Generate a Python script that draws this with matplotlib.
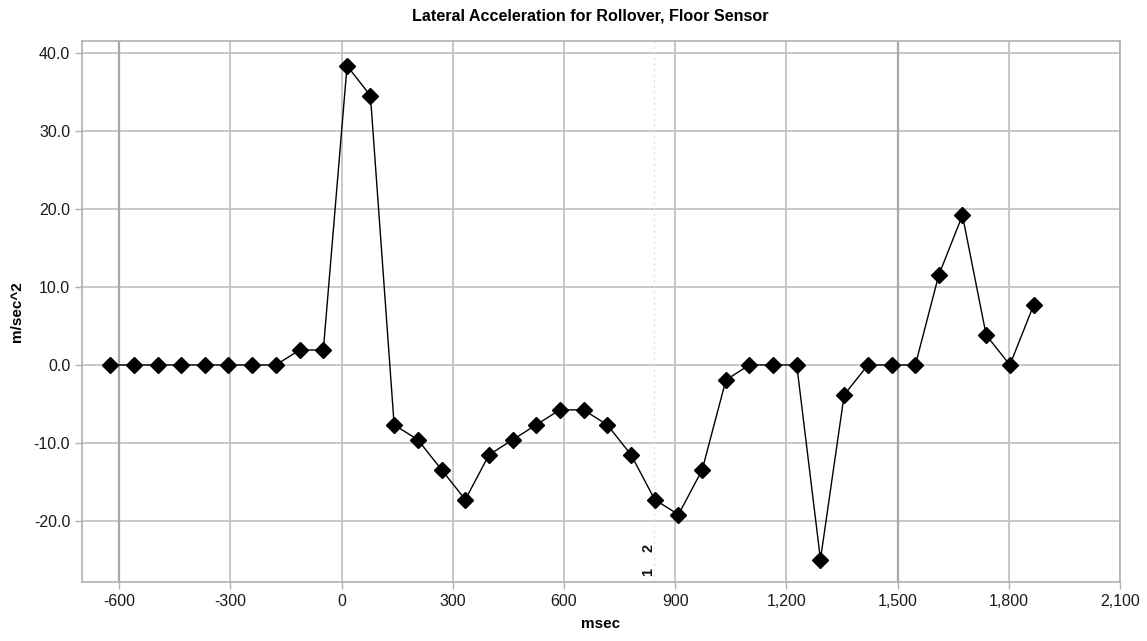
import matplotlib
matplotlib.use("Agg")
import matplotlib.pyplot as plt
from matplotlib.ticker import FuncFormatter, MultipleLocator

plt.rcParams['font.family'] = ['Liberation Sans', 'DejaVu Sans']

title = "Lateral Acceleration for Rollover, Floor Sensor"
x_label = "msec"
y_label = "m/sec^2"

time_ms = [-624, -560, -496, -432, -368, -305, -241, -177, -113, -49,
           15, 78, 142, 206, 270, 334, 398, 462, 525, 589,
           653, 717, 781, 845, 909, 973, 1037, 1100, 1164, 1228,
           1292, 1356, 1420, 1484, 1548, 1611, 1675, 1739, 1803, 1867]
accel = [0, 0, 0, 0, 0, 0, 0, 0, 1.92, 1.92,
         38.33, 34.50, -7.67, -9.58, -13.42, -17.25, -11.50, -9.58, -7.67, -5.75,
         -5.75, -7.67, -11.50, -17.25, -19.17, -13.42, -1.92, 0, 0, 0,
         -24.92, -3.83, 0, 0, 0, 11.50, 19.17, 3.83, 0, 7.67]

event_x = 843
event_labels = ["1", "2"]

fig = plt.figure(figsize=(11.47, 6.41), dpi=100)
ax = fig.add_axes([82/1147, 1 - 582/641, (1120-82)/1147, (582-41)/641])

ax.set_xlim(-700, 2100)
ax.set_ylim(-27.8, 41.5)
ax.xaxis.set_major_locator(MultipleLocator(300))
ax.yaxis.set_major_locator(MultipleLocator(10))
ax.xaxis.set_major_formatter(FuncFormatter(lambda v, p: f"{v:,.0f}"))
ax.yaxis.set_major_formatter(FuncFormatter(lambda v, p: f"{v:.1f}"))

ax.grid(True, color="#c4c4c4", linewidth=1.3)
ax.set_axisbelow(True)
for gx in (-600, 1500):
    ax.axvline(gx, color="#a8a8a8", linewidth=1.6, zorder=0.6)

for s in ax.spines.values():
    s.set_color("#b0b0b0")
    s.set_linewidth(1.2)

ax.tick_params(axis="both", colors="#b0b0b0", labelcolor="#1a1a1a",
               labelsize=11.5, length=5, width=1)

ax.axvline(event_x, color="#dcdcdc", linewidth=0.8, linestyle=(0, (2, 3)), zorder=0.7)
ax.text(event_x - 16, -26.5, event_labels[0], rotation=90, ha="center", va="center",
        fontsize=10.5, fontweight="bold", color="#111111")
ax.text(event_x - 16, -23.5, event_labels[1], rotation=90, ha="center", va="center",
        fontsize=10.5, fontweight="bold", color="#111111")

ax.plot(time_ms, accel, color="black", linewidth=1.0, marker="D",
        markersize=8.5, markerfacecolor="black", markeredgecolor="black", zorder=3)

ax.set_xlabel(x_label, fontsize=11, fontweight="bold", labelpad=6)
ax.set_ylabel(y_label, fontsize=11, fontweight="bold", labelpad=7)
fig.text(590/1147, 1 - 16/641, title, ha="center", va="center",
         fontsize=11.6, fontweight="bold")

fig.savefig("out.png", dpi=100, facecolor="white")
